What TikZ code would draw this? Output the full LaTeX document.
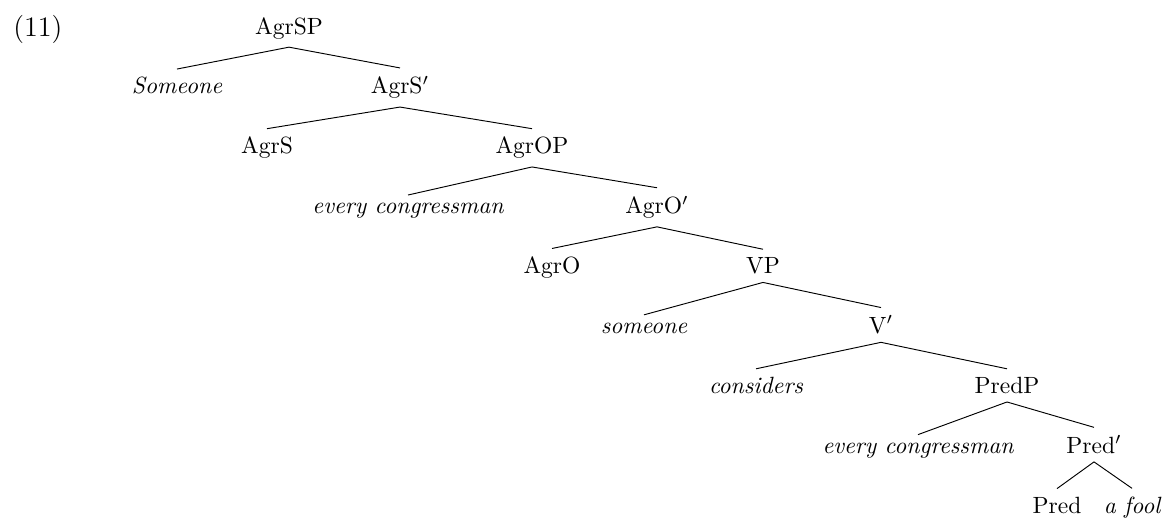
\documentclass[tikz,border=0pt]{standalone}
\usetikzlibrary{positioning}

\tikzset{
  cat/.style={anchor=base},
  lex/.style={anchor=base, font=\itshape}
}

\begin{document}
\begin{tikzpicture}[x=0.4255pt,y=-0.4255pt]

\useasboundingbox (0,0) rectangle (1162,517);

\newcommand\levelgap{59.9}
\newcommand\toplevel{34}

\node[anchor=base west, font=\large] (exnum) at (5,36) {(11)};

% spine of the tree, one level at a time
\node[cat] (agrsp)   at (289,\toplevel) {AgrSP};

\node[lex] (someone) at (177,\toplevel+\levelgap) {Someone};
\node[cat] (agrsbar) at (400,\toplevel+\levelgap) {AgrS$'$};

\node[cat] (agrs)    at (267,\toplevel+2*\levelgap) {AgrS};
\node[cat] (agrop)   at (532,\toplevel+2*\levelgap) {AgrOP};

\node[lex] (everyA)  at (408,\toplevel+3*\levelgap) {every congressman};
\node[cat] (agrobar) at (657,\toplevel+3*\levelgap) {AgrO$'$};

\node[cat] (agro)    at (552,\toplevel+4*\levelgap) {AgrO};
\node[cat] (vp)      at (763,\toplevel+4*\levelgap) {VP};

\node[lex] (someoneB) at (644,\toplevel+5*\levelgap) {someone};
\node[cat] (vbar)    at (881,\toplevel+5*\levelgap) {V$'$};

\node[lex] (considers) at (756,\toplevel+6*\levelgap) {considers};
\node[cat] (predp)   at (1007,\toplevel+6*\levelgap) {PredP};

\node[lex] (everyB)  at (918,\toplevel+7*\levelgap) {every congressman};
\node[cat] (predbar) at (1094,\toplevel+7*\levelgap) {Pred$'$};

\node[cat] (pred)    at (1057,\toplevel+8*\levelgap) {Pred};
\node[lex] (afool)   at (1132,\toplevel+8*\levelgap) {a fool};

\foreach \mother/\daughter in {agrsp/someone, agrsp/agrsbar,
    agrsbar/agrs, agrsbar/agrop, agrop/everyA, agrop/agrobar,
    agrobar/agro, agrobar/vp, vp/someoneB, vp/vbar,
    vbar/considers, vbar/predp, predp/everyB, predp/predbar,
    predbar/pred, predbar/afool}
  \draw (\mother.south) -- (\daughter.north);

\end{tikzpicture}
\end{document}
